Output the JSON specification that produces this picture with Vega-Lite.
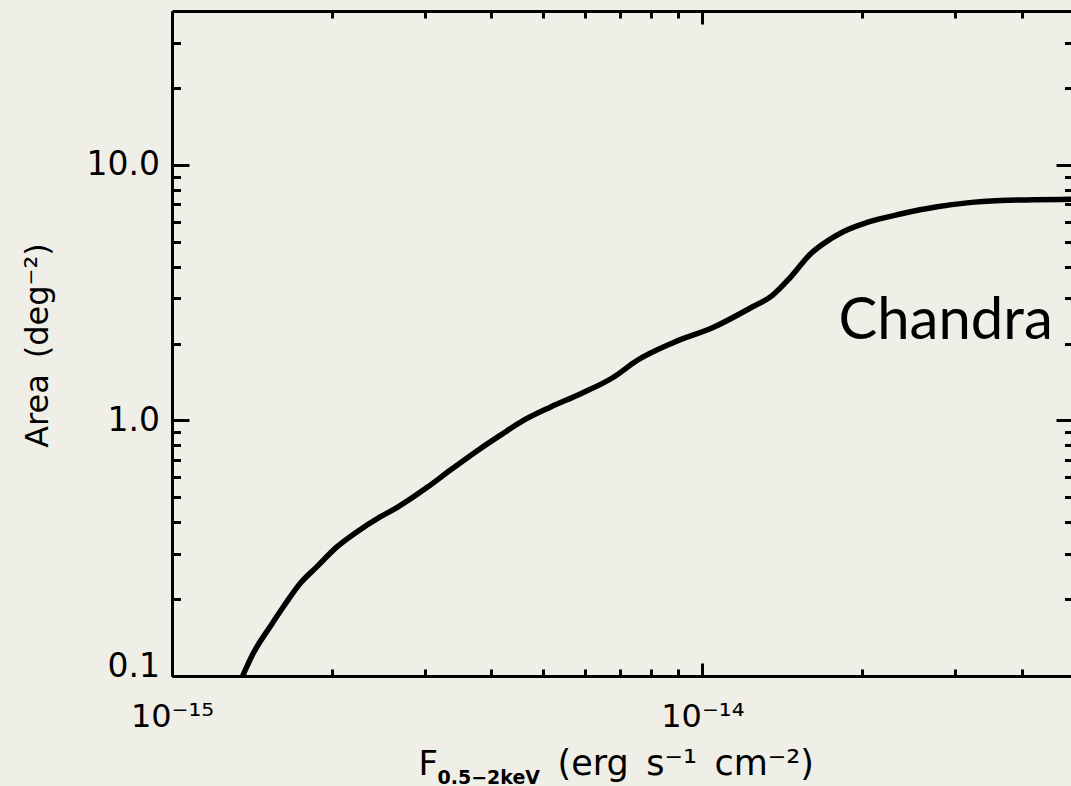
{
  "$schema": "https://vega.github.io/schema/vega-lite/v6.json",
  "width": 901,
  "height": 665,
  "autosize": {"type": "none"},
  "padding": {"left": 172, "top": 11, "right": 0, "bottom": 110},
  "background": "#efefe7",
  "config": {
    "view": {"stroke": null},
    "axis": {
      "grid": false,
      "domainColor": "black",
      "domainWidth": 3,
      "tickColor": "black",
      "tickWidth": 3,
      "labelColor": "black",
      "titleColor": "black",
      "labelFont": "DejaVu Sans",
      "titleFont": "DejaVu Sans",
      "titleFontWeight": "normal",
      "labelOverlap": false,
      "labelFlush": false
    }
  },
  "datasets": {
    "curve": [
      {"F": 1.359e-15, "A": 0.1},
      {"F": 1.423e-15, "A": 0.1227},
      {"F": 1.531e-15, "A": 0.156},
      {"F": 1.622e-15, "A": 0.1866},
      {"F": 1.744e-15, "A": 0.2301},
      {"F": 1.875e-15, "A": 0.2673},
      {"F": 2.046e-15, "A": 0.32},
      {"F": 2.231e-15, "A": 0.3663},
      {"F": 2.469e-15, "A": 0.4193},
      {"F": 2.655e-15, "A": 0.456},
      {"F": 3.024e-15, "A": 0.546},
      {"F": 3.345e-15, "A": 0.638},
      {"F": 3.812e-15, "A": 0.775},
      {"F": 4.157e-15, "A": 0.874},
      {"F": 4.6e-15, "A": 1.0},
      {"F": 5.167e-15, "A": 1.127},
      {"F": 5.886e-15, "A": 1.27},
      {"F": 6.8e-15, "A": 1.476},
      {"F": 7.53e-15, "A": 1.716},
      {"F": 8.83e-15, "A": 2.02},
      {"F": 1.05e-14, "A": 2.315},
      {"F": 1.232e-14, "A": 2.754},
      {"F": 1.354e-14, "A": 3.078},
      {"F": 1.466e-14, "A": 3.63},
      {"F": 1.599e-14, "A": 4.48},
      {"F": 1.744e-14, "A": 5.125},
      {"F": 1.848e-14, "A": 5.49},
      {"F": 2.045e-14, "A": 5.953},
      {"F": 2.363e-14, "A": 6.42},
      {"F": 2.773e-14, "A": 6.855},
      {"F": 3.158e-14, "A": 7.1},
      {"F": 3.65e-14, "A": 7.25},
      {"F": 4.22e-14, "A": 7.3},
      {"F": 5.0e-14, "A": 7.33}
    ],
    "label": [{"label": "Chandra", "F": 1.806e-14, "A": 2.09}]
  },
  "resolve": {"axis": {"x": "independent", "y": "independent"}},
  "layer": [
    {
      "data": {"name": "curve"},
      "mark": {"type": "line", "color": "black", "strokeWidth": 5.5, "interpolate": "monotone", "clip": true},
      "encoding": {
        "x": {
          "field": "F", "type": "quantitative",
          "scale": {"type": "log", "domain": [1e-15, 5e-14], "nice": false},
          "axis": {
            "orient": "bottom",
            "values": [1e-15, 2e-15, 3e-15, 4e-15, 5e-15, 6e-15, 7e-15, 8e-15, 9e-15, 1e-14, 2e-14, 3e-14, 4e-14],
            "tickSize": {"condition": {"test": "datum.value == 1e-15 || datum.value == 1e-14", "value": -13}, "value": -7},
            "labelExpr": "datum.value == 1e-15 ? '10⁻¹⁵' : (datum.value == 1e-14 ? '10⁻¹⁴' : '')",
            "labelFontSize": 32,
            "labelPadding": 38,
            "title": "F",
            "titleFontSize": 34,
            "titleAlign": "left",
            "titleBaseline": "alphabetic",
            "titleX": 246,
            "titleY": 98
          }
        },
        "y": {
          "field": "A", "type": "quantitative",
          "scale": {"type": "log", "domain": [0.1, 40], "nice": false},
          "axis": {
            "orient": "left",
            "values": [0.1, 0.2, 0.3, 0.4, 0.5, 0.6, 0.7, 0.8, 0.9, 1, 2, 3, 4, 5, 6, 7, 8, 9, 10, 20, 30],
            "tickSize": {"condition": {"test": "datum.value == 0.1 || datum.value == 1 || datum.value == 10", "value": -17}, "value": -8.5},
            "labelExpr": "datum.value == 0.1 ? '0.1' : (datum.value == 1 ? '1.0' : (datum.value == 10 ? '10.0' : ''))",
            "labelBaseline": {"condition": {"test": "datum.value == 0.1", "value": "alphabetic"}, "value": "middle"},
            "labelFontSize": 33,
            "labelPadding": 29.5,
            "title": "Area\u2002(deg⁻²)",
            "titleFontSize": 32,
            "titleAngle": 270,
            "titleAlign": "center",
            "titleBaseline": "alphabetic",
            "titleX": -125,
            "titleY": 334
          }
        }
      }
    },
    {
      "data": {"name": "label"},
      "mark": {"type": "text", "font": "Lato", "fontSize": 58, "align": "left", "baseline": "alphabetic", "color": "black"},
      "encoding": {
        "x": {
          "field": "F", "type": "quantitative",
          "axis": {
            "orient": "top",
            "values": [1e-15, 2e-15, 3e-15, 4e-15, 5e-15, 6e-15, 7e-15, 8e-15, 9e-15, 1e-14, 2e-14, 3e-14, 4e-14],
            "tickSize": {"condition": {"test": "datum.value == 1e-15 || datum.value == 1e-14", "value": -13}, "value": -7},
            "labels": false,
            "title": null
          }
        },
        "y": {
          "field": "A", "type": "quantitative",
          "axis": {
            "orient": "right",
            "values": [0.1, 0.2, 0.3, 0.4, 0.5, 0.6, 0.7, 0.8, 0.9, 1, 2, 3, 4, 5, 6, 7, 8, 9, 10, 20, 30],
            "tickSize": {"condition": {"test": "datum.value == 0.1 || datum.value == 1 || datum.value == 10", "value": -17}, "value": -8.5},
            "labels": false,
            "title": null
          }
        },
        "text": {"field": "label"}
      }
    },
    {
      "data": {"name": "curve"},
      "mark": {"type": "line", "strokeOpacity": 0},
      "encoding": {
        "x": {
          "field": "F", "type": "quantitative",
          "axis": {
            "orient": "bottom", "domain": false, "ticks": false, "labels": false,
            "title": "0.5−2keV",
            "titleFontSize": 19,
            "titleFontWeight": "bold",
            "titleAlign": "left",
            "titleBaseline": "alphabetic",
            "titleX": 265,
            "titleY": 107
          }
        },
        "y": {"field": "A", "type": "quantitative", "axis": null}
      }
    },
    {
      "data": {"name": "curve"},
      "mark": {"type": "line", "strokeOpacity": 0},
      "encoding": {
        "x": {
          "field": "F", "type": "quantitative",
          "axis": {
            "orient": "bottom", "domain": false, "ticks": false, "labels": false,
            "title": "(erg\u2002s⁻¹\u2002cm⁻²)",
            "titleFontSize": 35,
            "titleAlign": "left",
            "titleBaseline": "alphabetic",
            "titleX": 385,
            "titleY": 98
          }
        },
        "y": {"field": "A", "type": "quantitative", "axis": null}
      }
    }
  ]
}
